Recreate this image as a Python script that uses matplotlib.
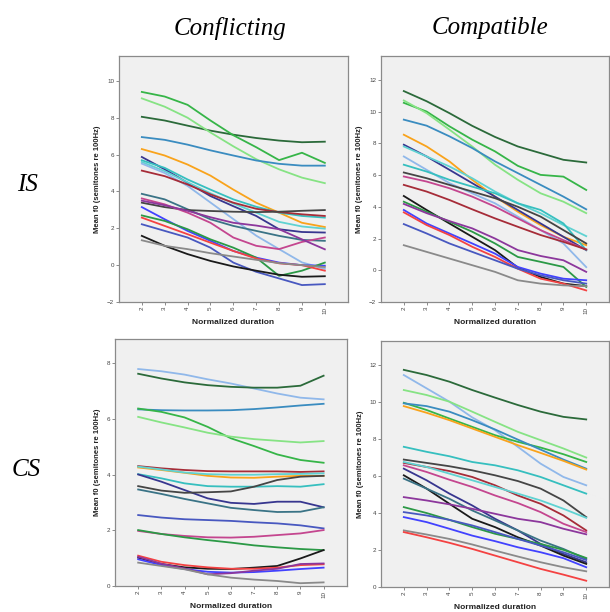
import numpy as np
import matplotlib
matplotlib.use("Agg")
import matplotlib.pyplot as plt

plt.rcParams['font.family'] = ['Liberation Sans', 'DejaVu Sans']

steps = [2, 3, 4, 5, 6, 7, 8, 9, 10]

palette = {
    'dkgreen': '#2b6a3a', 'green': '#36b548', 'ltgreen': '#86e384',
    'steel': '#3a8cc0', 'orange': '#f9a31b', 'navy': '#37368f',
    'teal': '#36bfbf', 'cyan': '#5fd2d2', 'ltblue': '#90b8ea',
    'dkred': '#a62c38', 'slateteal': '#3a7386', 'black': '#1a1a1a',
    'gray': '#8a8a8a', 'magenta': '#c4468f', 'purple': '#8c379c',
    'blue': '#4242ff', 'red': '#f44242', 'slate': '#4858c0',
    'midgreen': '#2b9946', 'dkgray': '#454545',
}

# IS / Conflicting
is_conf_keys = ['dkgreen', 'green', 'ltgreen', 'steel', 'orange', 'navy', 'teal',
                'cyan', 'ltblue', 'dkred', 'slateteal', 'dkgray', 'magenta', 'purple',
                'blue', 'midgreen', 'red', 'slate', 'black', 'gray']
is_conf_vals = [
    [8.05, 7.85, 7.57, 7.3, 7.08, 6.9, 6.76, 6.67, 6.7],
    [9.4, 9.15, 8.7, 7.85, 7.05, 6.4, 5.7, 6.1, 5.55],
    [9.05, 8.6, 8.0, 7.2, 6.45, 5.75, 5.2, 4.75, 4.45],
    [6.95, 6.8, 6.54, 6.23, 5.95, 5.68, 5.5, 5.4, 5.4],
    [6.3, 5.95, 5.46, 4.86, 4.1, 3.39, 2.85, 2.3, 2.07],
    [5.87, 5.2, 4.47, 3.75, 3.2, 2.67, 1.95, 1.8, 1.77],
    [5.69, 5.28, 4.65, 4.1, 3.57, 3.17, 2.85, 2.67, 2.58],
    [5.6, 5.1, 4.5, 3.9, 3.35, 2.85, 2.35, 2.1, 1.98],
    [5.51, 5.0, 4.3, 3.4, 2.5, 1.6, 0.87, 0.15, -0.2],
    [5.13, 4.83, 4.38, 3.84, 3.39, 3.06, 2.88, 2.76, 2.67],
    [3.87, 3.57, 3.03, 2.49, 2.13, 1.86, 1.59, 1.37, 1.32],
    [3.39, 3.15, 2.99, 2.94, 2.9, 2.88, 2.9, 2.95, 2.99],
    [3.62, 3.3, 2.85, 2.3, 1.5, 1.05, 0.87, 1.26, 1.5],
    [3.5, 3.25, 2.95, 2.6, 2.3, 2.15, 1.95, 1.4, 0.86],
    [3.15, 2.49, 1.86, 1.32, 0.77, 0.41, 0.14, 0.0, -0.03],
    [2.7, 2.4, 1.95, 1.4, 0.95, 0.41, -0.58, -0.3, 0.14],
    [2.58, 2.13, 1.68, 1.22, 0.77, 0.36, 0.1, 0.0, -0.3],
    [2.22, 1.86, 1.5, 0.95, 0.14, -0.36, -0.72, -1.08, -1.03],
    [1.59, 1.05, 0.6, 0.23, -0.07, -0.3, -0.52, -0.63, -0.6],
    [1.35, 1.05, 0.87, 0.65, 0.47, 0.29, 0.11, 0.0, -0.1],
]

# IS / Compatible
is_comp_keys = ['dkgreen', 'green', 'ltgreen', 'steel', 'orange', 'navy', 'cyan',
                'ltblue', 'teal', 'dkgray', 'magenta', 'dkred', 'black', 'midgreen',
                'purple', 'blue', 'red', 'slate', 'gray']
is_comp_vals = [
    [11.29, 10.65, 9.9, 9.1, 8.4, 7.8, 7.38, 6.96, 6.79],
    [10.55, 10.0, 9.07, 8.23, 7.49, 6.58, 6.01, 5.9, 5.06],
    [10.7, 9.9, 8.86, 7.8, 6.65, 5.7, 4.85, 4.32, 3.6],
    [9.49, 9.11, 8.44, 7.7, 6.86, 6.12, 5.38, 4.64, 3.84],
    [8.54, 7.8, 6.86, 5.7, 4.64, 3.69, 2.85, 2.11, 1.58],
    [7.91, 7.17, 6.33, 5.49, 4.64, 3.8, 2.95, 2.11, 1.27],
    [7.8, 7.17, 6.54, 5.8, 4.96, 4.22, 3.59, 2.85, 2.15],
    [7.17, 6.33, 5.49, 4.85, 4.22, 3.38, 2.53, 1.69, 0.2],
    [6.65, 6.22, 5.7, 5.27, 4.85, 4.22, 3.8, 2.95, 1.27],
    [6.16, 5.8, 5.38, 4.96, 4.54, 4.0, 3.38, 2.53, 1.69],
    [5.91, 5.59, 5.17, 4.64, 4.01, 3.27, 2.53, 1.9, 1.31],
    [5.38, 4.96, 4.43, 3.84, 3.27, 2.74, 2.22, 1.79, 1.31],
    [4.68, 3.8, 2.95, 2.11, 1.27, 0.17, -0.42, -0.84, -1.0],
    [4.32, 3.69, 3.06, 2.43, 1.69, 0.84, 0.53, 0.21, -1.05],
    [4.18, 3.6, 3.1, 2.64, 2.0, 1.27, 0.9, 0.63, -0.1],
    [3.8, 2.95, 2.32, 1.69, 1.05, 0.21, -0.21, -0.53, -0.63],
    [3.65, 2.85, 2.22, 1.48, 0.84, 0.1, -0.53, -0.84, -1.27],
    [2.91, 2.32, 1.69, 1.16, 0.63, 0.1, -0.32, -0.63, -0.84],
    [1.58, 1.16, 0.74, 0.32, -0.1, -0.63, -0.84, -0.95, -1.0],
]

# CS / Conflicting
cs_conf_keys = ['ltblue', 'dkgreen', 'steel', 'green', 'ltgreen', 'dkred', 'orange',
                'cyan', 'teal', 'navy', 'dkgray', 'slateteal', 'slate', 'magenta',
                'midgreen', 'black', 'red', 'blue', 'purple', 'gray']
cs_conf_vals = [
    [7.8, 7.72, 7.6, 7.43, 7.28, 7.1, 6.92, 6.77, 6.71],
    [7.63, 7.46, 7.32, 7.22, 7.16, 7.13, 7.13, 7.2, 7.56],
    [6.35, 6.32, 6.31, 6.31, 6.32, 6.36, 6.42, 6.49, 6.55],
    [6.38, 6.26, 6.06, 5.72, 5.31, 5.03, 4.73, 4.53, 4.43],
    [6.08, 5.88, 5.7, 5.51, 5.37, 5.28, 5.22, 5.16, 5.21],
    [4.31, 4.23, 4.17, 4.13, 4.12, 4.12, 4.12, 4.1, 4.12],
    [4.26, 4.17, 4.07, 3.96, 3.9, 3.89, 3.93, 3.96, 3.96],
    [4.29, 4.19, 4.08, 4.02, 4.0, 4.0, 4.02, 4.03, 4.05],
    [4.02, 3.87, 3.69, 3.59, 3.57, 3.57, 3.59, 3.57, 3.66],
    [4.01, 3.75, 3.45, 3.15, 2.99, 2.95, 3.03, 3.03, 2.83],
    [3.59, 3.43, 3.35, 3.37, 3.4, 3.57, 3.81, 3.93, 3.96],
    [3.47, 3.31, 3.13, 2.97, 2.81, 2.73, 2.66, 2.67, 2.83],
    [2.55, 2.46, 2.4, 2.37, 2.34, 2.29, 2.25, 2.18, 2.07],
    [1.98, 1.87, 1.8, 1.75, 1.74, 1.77, 1.83, 1.89, 2.01],
    [2.01, 1.87, 1.75, 1.65, 1.56, 1.46, 1.39, 1.33, 1.29],
    [1.02, 0.79, 0.67, 0.62, 0.61, 0.66, 0.72, 0.99, 1.29],
    [1.09, 0.87, 0.75, 0.67, 0.62, 0.62, 0.66, 0.75, 0.78],
    [0.96, 0.75, 0.61, 0.51, 0.48, 0.5, 0.55, 0.61, 0.66],
    [1.05, 0.8, 0.63, 0.42, 0.46, 0.55, 0.62, 0.79, 0.81],
    [0.84, 0.72, 0.6, 0.42, 0.3, 0.23, 0.18, 0.1, 0.13],
]

# CS / Compatible
cs_comp_keys = ['dkgreen', 'ltblue', 'ltgreen', 'green', 'steel', 'orange', 'teal',
                'dkgray', 'dkred', 'cyan', 'magenta', 'navy', 'black', 'slateteal',
                'purple', 'midgreen', 'slate', 'blue', 'gray', 'red']
cs_comp_vals = [
    [11.74, 11.46, 11.1, 10.65, 10.24, 9.84, 9.48, 9.2, 9.06],
    [11.46, 10.74, 10.02, 9.17, 8.48, 7.58, 6.67, 5.95, 5.5],
    [10.65, 10.38, 10.02, 9.48, 8.93, 8.39, 7.94, 7.49, 7.0],
    [9.96, 9.57, 9.11, 8.66, 8.21, 7.85, 7.54, 7.18, 6.76],
    [9.93, 9.78, 9.48, 9.02, 8.52, 7.97, 7.43, 6.89, 6.4],
    [9.78, 9.42, 9.02, 8.57, 8.12, 7.67, 7.25, 6.82, 6.35],
    [7.58, 7.31, 7.07, 6.76, 6.58, 6.31, 5.95, 5.5, 5.05],
    [6.89, 6.71, 6.53, 6.31, 6.04, 5.73, 5.32, 4.68, 3.78],
    [6.71, 6.49, 6.27, 5.95, 5.5, 4.95, 4.5, 3.87, 3.06],
    [6.76, 6.49, 6.13, 5.77, 5.41, 5.05, 4.68, 4.23, 3.74],
    [6.58, 6.22, 5.8, 5.41, 4.95, 4.54, 4.05, 3.42, 2.97],
    [6.4, 5.77, 5.05, 4.41, 3.69, 3.06, 2.33, 1.79, 1.34],
    [6.04, 5.32, 4.5, 3.69, 3.24, 2.69, 2.24, 1.7, 1.25],
    [5.86, 5.32, 4.77, 4.14, 3.6, 3.06, 2.51, 2.06, 1.52],
    [4.86, 4.68, 4.47, 4.23, 3.96, 3.69, 3.51, 3.15, 2.85],
    [4.32, 4.0, 3.63, 3.24, 2.88, 2.6, 2.33, 2.01, 1.57],
    [4.05, 3.87, 3.63, 3.33, 2.97, 2.6, 2.24, 1.88, 1.46],
    [3.78, 3.51, 3.15, 2.78, 2.48, 2.15, 1.88, 1.56, 1.07],
    [3.06, 2.84, 2.6, 2.3, 1.97, 1.65, 1.34, 1.07, 0.85],
    [2.97, 2.69, 2.39, 2.06, 1.7, 1.34, 0.98, 0.67, 0.34],
]

fig = plt.figure(figsize=(6.1, 6.12), dpi=100)

panels = [
    ([0.195, 0.5065, 0.375, 0.402], is_conf_keys, is_conf_vals, (-2, 11.35), range(-2, 11, 2)),
    ([0.6246, 0.5065, 0.3738, 0.402], is_comp_keys, is_comp_vals, (-2, 13.5), range(-2, 13, 2)),
    ([0.1885, 0.0425, 0.380, 0.4036], cs_conf_keys, cs_conf_vals, (0, 8.88), range(0, 9, 2)),
    ([0.6246, 0.0408, 0.3738, 0.402], cs_comp_keys, cs_comp_vals, (0, 13.3), range(0, 13, 2)),
]

for rect, keys, vals, ylim, yt in panels:
    ax = fig.add_axes(rect)
    ax.set_facecolor('#f0f0f0')
    for k, v in zip(keys, vals):
        ax.plot(steps, v, color=palette[k], lw=1.3)
    ax.set_xlim(1, 11)
    ax.set_ylim(*ylim)
    ax.set_xticks(steps)
    ax.set_yticks(list(yt))
    ax.tick_params(labelsize=4.5, length=2, width=0.6, color='#777777',
                   labelcolor='#444444', pad=1.5)
    ax.tick_params(axis='x', labelrotation=90)
    for s in ax.spines.values():
        s.set_color('#8a8a8a')
        s.set_linewidth(0.9)
    ax.set_xlabel('Normalized duration', fontsize=6, fontweight='bold',
                  color='#222222', labelpad=4)
    ax.set_ylabel('Mean f0 (semitones re 100Hz)', fontsize=5.5, fontweight='bold',
                  color='#222222', labelpad=4)

tfont = dict(family=['Liberation Serif', 'DejaVu Serif'], style='italic', fontsize=18)
fig.text(0.377, 0.954, 'Conflicting', ha='center', va='center', **tfont)
fig.text(0.803, 0.954, 'Compatible', ha='center', va='center', **tfont)
fig.text(0.045, 0.698, 'IS', ha='center', va='center', **tfont)
fig.text(0.043, 0.232, 'CS', ha='center', va='center', **tfont)

fig.savefig('out.png', dpi=100)
